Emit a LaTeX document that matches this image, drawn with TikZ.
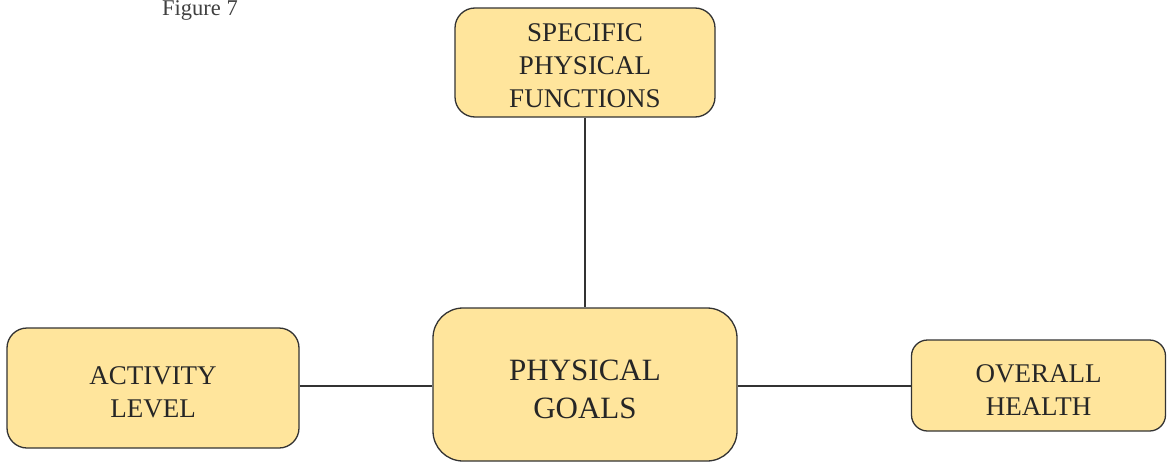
\documentclass[tikz,border=0pt]{standalone}
\usepackage{fontspec}
\setmainfont{Liberation Serif}
\definecolor{boxfill}{HTML}{FFE59C}
\definecolor{boxline}{HTML}{333333}
% invisible strut that makes the first line taller, nudging the text block down
\newcommand{\boxstrut}[1]{\rule{0pt}{#1}}
\begin{document}
\begin{tikzpicture}[x=1pt,y=-1pt,
  topicbox/.style={draw=boxline, fill=boxfill, line width=1.3pt,
    rounded corners=20pt, align=center, inner sep=0pt, text=black!85,
    font=\fontsize{27}{33}\selectfont},
  link/.style={draw=boxline, line width=1.3pt}]
  \useasboundingbox (0,0) rectangle (1167,463);
  % caption
  \node[anchor=base west, inner sep=0pt, font=\fontsize{22.5}{25}\selectfont, text=black!75] (cap) at (162,16) {Figure 7};
  % topic boxes
  \node[topicbox, minimum width=260pt, minimum height=109pt] (spec) at (585,62.5)
    {\boxstrut{24pt}SPECIFIC\\PHYSICAL\\FUNCTIONS};
  \node[topicbox, rounded corners=30pt, minimum width=304pt, minimum height=153pt,
    font=\fontsize{31}{38}\selectfont] (goals) at (585,384.5) {\boxstrut{31pt}PHYSICAL\\GOALS};
  \node[topicbox, minimum width=292pt, minimum height=120pt] (act) at (153,388)
    {\boxstrut{26pt}ACTIVITY\\LEVEL};
  \node[topicbox, rounded corners=16pt, minimum width=254pt, minimum height=91pt] (health) at (1038.5,385.5)
    {\boxstrut{27pt}OVERALL\\HEALTH};
  % connectors
  \draw[link] (spec.south) -- (goals.north);
  \draw[link] (act.east |- 0,386) -- (goals.west |- 0,386);
  \draw[link] (goals.east |- 0,386) -- (health.west |- 0,386);
\end{tikzpicture}
\end{document}
